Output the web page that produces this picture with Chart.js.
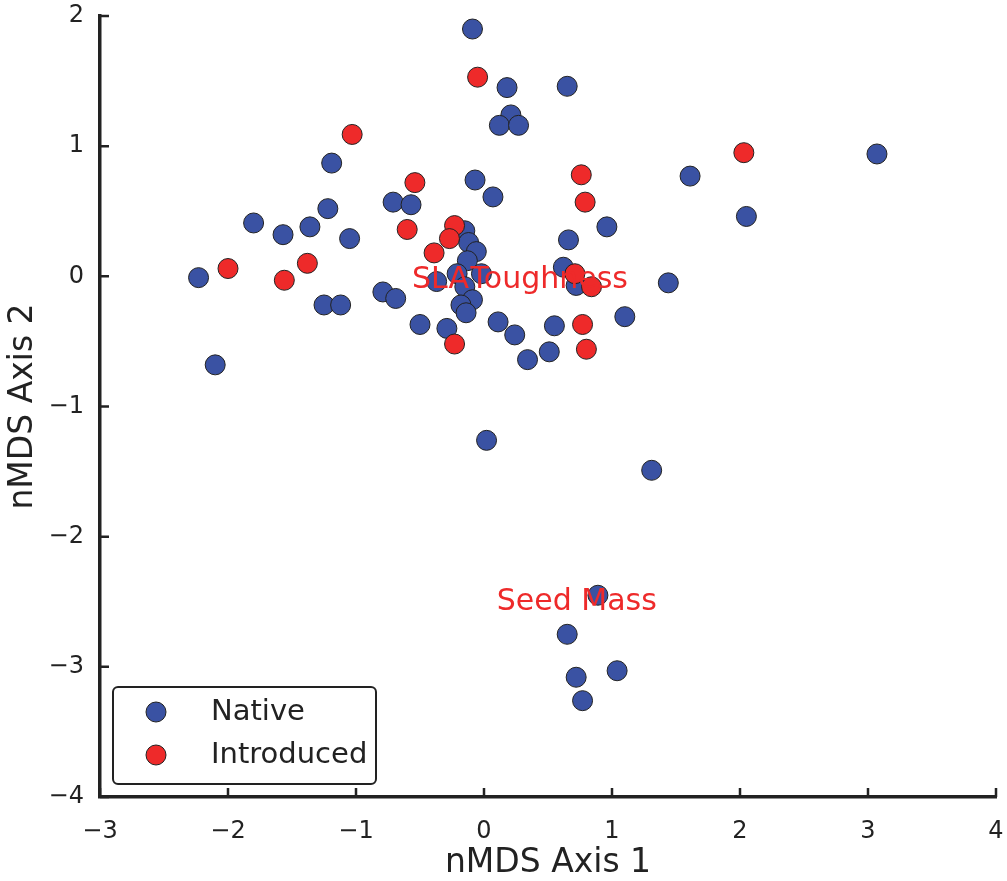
<!DOCTYPE html>
<html>
<head>
<meta charset="utf-8">
<title>nMDS</title>
<script src="https://cdn.jsdelivr.net/npm/chart.js@4/dist/chart.umd.min.js"></script>
<style>
  html, body { margin: 0; padding: 0; background: #fff; }
  #wrap { width: 1007px; height: 881px; }
</style>
</head>
<body>
<div id="wrap"><canvas id="myChart" width="1007" height="881"></canvas></div>
<script>
// site scores
const nativeX = [-2.23, -2.10, -1.80, -1.57, -1.36, -1.19, -1.22, -1.05, -1.25, -1.12,
                 -0.71, -0.57, -0.79, -0.69, -0.50, -0.37, -0.29, -0.09, -0.07, 0.07,
                 0.18, 0.21, 0.12, 0.27, 0.65, 0.66, 0.62, 0.72, 0.96, 1.44,
                 1.61, 1.10, 0.55, 0.51, 0.34, 0.24, 0.11, 0.02, 1.31, 2.05,
                 3.07, 0.89, 0.65, 1.04, 0.72, 0.77,
                 -0.15, -0.12, -0.06, -0.13, -0.21, -0.02, -0.15, -0.09, -0.18, -0.14];
const nativeY = [-0.01, -0.68, 0.41, 0.32, 0.38, 0.87, 0.52, 0.29, -0.22, -0.22,
                 0.57, 0.55, -0.12, -0.17, -0.37, -0.04, -0.40, 1.90, 0.74, 0.61,
                 1.45, 1.24, 1.16, 1.16, 1.46, 0.28, 0.07, -0.07, 0.38, -0.05,
                 0.77, -0.31, -0.38, -0.58, -0.64, -0.45, -0.35, -1.26, -1.49, 0.46,
                 0.94, -2.45, -2.75, -3.03, -3.08, -3.26,
                 0.35, 0.26, 0.19, 0.12, 0.02, 0.02, -0.08, -0.18, -0.22, -0.28];

const introX = [-2.00, -1.56, -1.38, -1.03, -0.54, -0.60, -0.39, -0.23, -0.27, -0.23,
                -0.05, 0.76, 0.79, 0.71, 0.84, 0.77, 0.80, 2.03];
const introY = [0.06, -0.03, 0.10, 1.09, 0.72, 0.36, 0.18, 0.39, 0.29, -0.52,
                1.53, 0.78, 0.57, 0.02, -0.08, -0.37, -0.56, 0.95];

// trait vectors (label positions)
const traitNames = ['SLA', 'Toughness', 'Seed Mass'];
const traitX = [-0.34, 0.51, 0.725];
const traitY = [-0.03, -0.03, -2.50];

const xTicks = [-3, -2, -1, 0, 1, 2, 3, 4];
const yTicks = [-4, -3, -2, -1, 0, 1, 2];

const BLUE = '#3a52a3';
const RED = '#ee2a2a';
const INK = '#222222';
const FONT = '"DejaVu Sans", sans-serif';

function toPoints(xs, ys) {
    return xs.map((x, i) => ({ x: x, y: ys[i] }));
}

function fmt(v) {
    return v < 0 ? '\u2212' + Math.abs(v) : String(v);
}

// ticks point into the plot, like the original axes
const innerTicks = {
    id: 'innerTicks',
    afterDraw(chart) {
        const ctx = chart.ctx;
        const a = chart.chartArea;
        const xs = chart.scales.x, ys = chart.scales.y;
        ctx.save();
        ctx.strokeStyle = INK;
        ctx.lineWidth = 2.5;
        ctx.beginPath();
        xTicks.forEach(v => {
            const px = xs.getPixelForValue(v);
            ctx.moveTo(px, a.bottom);
            ctx.lineTo(px, a.bottom - 9);
        });
        yTicks.forEach(v => {
            const py = ys.getPixelForValue(v);
            ctx.moveTo(a.left, py);
            ctx.lineTo(a.left + 9, py);
        });
        ctx.stroke();
        ctx.restore();
    }
};

const traitLabels = {
    id: 'traitLabels',
    afterDatasetsDraw(chart) {
        const ctx = chart.ctx;
        const xs = chart.scales.x, ys = chart.scales.y;
        ctx.save();
        ctx.fillStyle = RED;
        ctx.font = '30px ' + FONT;
        ctx.textAlign = 'center';
        ctx.textBaseline = 'middle';
        traitNames.forEach((t, i) => {
            ctx.fillText(t, xs.getPixelForValue(traitX[i]), ys.getPixelForValue(traitY[i]));
        });
        ctx.restore();
    }
};

const boxLegend = {
    id: 'boxLegend',
    afterDraw(chart) {
        const ctx = chart.ctx;
        const a = chart.chartArea;
        const bx = a.left + 13, by = a.bottom - 110, bw = 263, bh = 97;
        ctx.save();
        ctx.beginPath();
        ctx.roundRect(bx, by, bw, bh, 5);
        ctx.fillStyle = '#fff';
        ctx.fill();
        ctx.lineWidth = 2;
        ctx.strokeStyle = INK;
        ctx.stroke();
        ctx.font = '29px ' + FONT;
        ctx.textBaseline = 'middle';
        ctx.textAlign = 'left';
        chart.data.datasets.forEach((ds, i) => {
            const cy = by + 25 + i * 43;
            ctx.beginPath();
            ctx.arc(bx + 43, cy, 10, 0, Math.PI * 2);
            ctx.fillStyle = ds.backgroundColor;
            ctx.fill();
            ctx.lineWidth = 1;
            ctx.strokeStyle = INK;
            ctx.stroke();
            ctx.fillStyle = INK;
            ctx.fillText(ds.label, bx + 98, cy);
        });
        ctx.restore();
    }
};

const ctx = document.getElementById('myChart');
new Chart(ctx, {
    type: 'scatter',
    data: {
        datasets: [{
            label: 'Native',
            data: toPoints(nativeX, nativeY),
            backgroundColor: BLUE,
            borderColor: INK,
            borderWidth: 1,
            pointRadius: 10,
            order: 2
        }, {
            label: 'Introduced',
            data: toPoints(introX, introY),
            backgroundColor: RED,
            borderColor: INK,
            borderWidth: 1,
            pointRadius: 10,
            order: 1
        }]
    },
    options: {
        responsive: false,
        animation: false,
        events: [],
        layout: { padding: { left: 0, top: 16, right: 10, bottom: 0 } },
        plugins: {
            legend: { display: false },
            tooltip: { enabled: false }
        },
        scales: {
            x: {
                type: 'linear',
                min: -3,
                max: 4,
                afterFit: s => {
                    s.height = 84;
                    s.paddingLeft = 0;
                    s.paddingRight = 0;
                },
                afterBuildTicks: s => { s.ticks = xTicks.map(v => ({ value: v })); },
                grid: { display: false },
                border: { display: true, width: 3.5, color: INK },
                ticks: {
                    color: INK,
                    padding: 12,
                    font: { family: FONT, size: 24 },
                    callback: fmt
                },
                title: {
                    display: true,
                    text: 'nMDS Axis 1',
                    color: INK,
                    font: { family: FONT, size: 33, lineHeight: 1 },
                    padding: { top: 0, bottom: 1 }
                }
            },
            y: {
                type: 'linear',
                min: -4,
                max: 2,
                afterFit: s => {
                    s.width = 100;
                    s.paddingTop = 0;
                    s.paddingBottom = 0;
                },
                afterBuildTicks: s => { s.ticks = yTicks.map(v => ({ value: v })); },
                grid: { display: false },
                border: { display: true, width: 3.5, color: INK },
                ticks: {
                    color: INK,
                    padding: 8,
                    font: { family: FONT, size: 24 },
                    callback: fmt
                },
                title: {
                    display: true,
                    text: 'nMDS Axis 2',
                    color: INK,
                    font: { family: FONT, size: 33, lineHeight: 1 },
                    padding: { top: 7, bottom: 0 }
                }
            }
        }
    },
    plugins: [traitLabels, innerTicks, boxLegend]
});
</script>
</body>
</html>
